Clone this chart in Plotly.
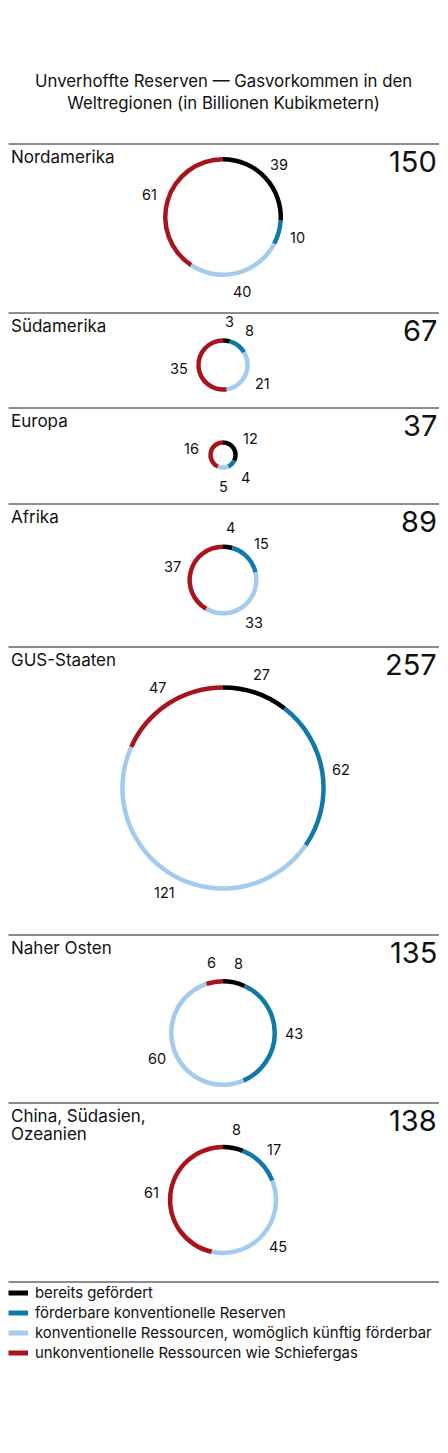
import math
import plotly.graph_objects as go

# page body has an 8px margin, so the figure is 440 x 1445 and offset by 8px
OFF = 8
W, H = 448 - OFF, 1453 - OFF

regions = ["Nordamerika", "Südamerika", "Europa", "Afrika", "GUS-Staaten",
           "Naher Osten", "China, Südasien,<br>Ozeanien"]
totals = [150, 67, 37, 89, 257, 135, 138]
bereits = [39, 3, 12, 4, 27, 8, 8]
foerderbar = [10, 8, 4, 15, 62, 43, 17]
konventionell = [40, 21, 5, 33, 121, 60, 45]
unkonventionell = [61, 35, 16, 37, 47, 6, 61]

categories = ["bereits gefördert",
              "förderbare konventionelle Reserven",
              "konventionelle Ressourcen, womöglich künftig förderbar",
              "unkonventionelle Ressourcen wie Schiefergas"]
colors = ["#000000", "#0f7aa6", "#a3cbed", "#a8141b"]

# layout: separator y, ring centre y (page px from top)
sep_y = [144, 313, 408, 504, 647, 935, 1103]
ring_cy = [217, 365, 455, 580, 788, 1033, 1200]
ring_cx = 223
px_per_unit = 0.4
stroke = 4.5
FONT = "Inter"
LEFT = 8.5


def fx(x):
    return (x - OFF) / W


def fy(y):
    return 1 - (y - OFF) / H


fig = go.Figure()
annotations = []
shapes = []

for i, name in enumerate(regions):
    vals = [bereits[i], foerderbar[i], konventionell[i], unkonventionell[i]]
    r = totals[i] * px_per_unit
    cy = ring_cy[i]
    fig.add_trace(go.Pie(
        values=vals, labels=categories, sort=False, direction="clockwise",
        rotation=0, hole=1 - stroke / r, textinfo="none",
        marker=dict(colors=colors, line=dict(width=0)),
        domain=dict(x=[fx(ring_cx - r), fx(ring_cx + r)],
                    y=[fy(cy + r), fy(cy - r)]),
        showlegend=False, hovertemplate="%{label}: %{value}<extra></extra>"))

    # value labels at the middle of each arc
    s = sum(vals)
    cum = 0
    for v in vals:
        ang = (cum + v / 2) / s * 2 * math.pi
        cum += v
        d = r + 17
        annotations.append(dict(x=fx(ring_cx + d * math.sin(ang)), y=fy(cy - d * math.cos(ang)),
                                xref="paper", yref="paper", text=str(v),
                                showarrow=False, xanchor="center", yanchor="middle",
                                font=dict(size=14.5, color="#111", family=FONT)))

    y0 = sep_y[i]
    shapes.append(dict(type="line", xref="paper", yref="paper",
                       x0=fx(LEFT), x1=fx(439), y0=fy(y0), y1=fy(y0),
                       line=dict(color="#666", width=1.3)))
    for j, part in enumerate(name.split("<br>")):
        annotations.append(dict(x=fx(LEFT), y=fy(y0 + 1 + j * 18), xref="paper", yref="paper",
                                text=part, showarrow=False, xanchor="left", yanchor="top",
                                align="left", font=dict(size=17, color="#111", family=FONT)))
    annotations.append(dict(x=fx(439), y=fy(y0 - 2), xref="paper", yref="paper",
                            text=str(totals[i]), showarrow=False, xanchor="right",
                            yanchor="top", font=dict(size=29, color="#111", family=FONT)))

# title
annotations.append(dict(x=fx(223), y=fy(69), xref="paper", yref="paper",
                        text="Unverhoffte Reserven — Gasvorkommen in den<br>Weltregionen (in Billionen Kubikmetern)",
                        showarrow=False, xanchor="center", yanchor="top", align="center",
                        font=dict(size=16.8, color="#111", family=FONT)))

# legend
leg_y = 1282
shapes.append(dict(type="line", xref="paper", yref="paper",
                   x0=fx(LEFT), x1=fx(439), y0=fy(leg_y), y1=fy(leg_y),
                   line=dict(color="#666", width=1.3)))
for k, (cat, col) in enumerate(zip(categories, colors)):
    yy = leg_y + 11 + k * 20
    shapes.append(dict(type="rect", xref="paper", yref="paper",
                       x0=fx(LEFT), x1=fx(28), y0=fy(yy + 2.5), y1=fy(yy - 2.5),
                       fillcolor=col, line=dict(width=0)))
    annotations.append(dict(x=fx(33), y=fy(yy), xref="paper", yref="paper",
                            text=cat, showarrow=False, xanchor="left", yanchor="middle",
                            font=dict(size=14.9, color="#111", family=FONT)))

fig.update_layout(width=W, height=H, margin=dict(l=0, r=0, t=0, b=0),
                  paper_bgcolor="white", plot_bgcolor="white",
                  annotations=annotations, shapes=shapes)

fig.write_html("out.html")
